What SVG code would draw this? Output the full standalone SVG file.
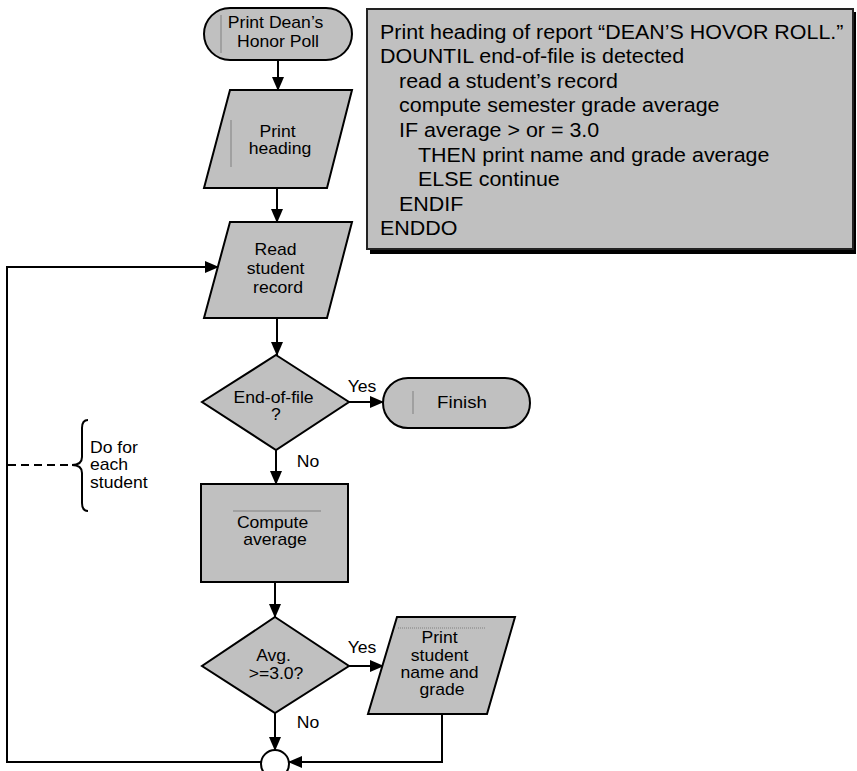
<svg xmlns="http://www.w3.org/2000/svg" width="857" height="771" viewBox="0 0 857 771">
  <style>
    .shape { fill: #c0c0c0; stroke: #000; stroke-width: 2; }
    .line { fill: none; stroke: #000; stroke-width: 2; }
    .arrow { fill: none; stroke: #000; stroke-width: 2; marker-end: url(#head); }
    .deco { stroke: #808080; stroke-width: 1; fill: none; }
    .t { font-family: "Liberation Sans", Arial, sans-serif; font-size: 16px; fill: #000; text-anchor: middle; }
    .tl { font-family: "Liberation Sans", Arial, sans-serif; font-size: 16px; fill: #000; }
    .code { font-family: "Liberation Sans", Arial, sans-serif; font-size: 19.5px; fill: #000; }
  </style>
  <defs>
    <marker id="head" markerUnits="userSpaceOnUse" markerWidth="14" markerHeight="14" viewBox="0 0 14 14" refX="13" refY="7" orient="auto">
      <path d="M0,1 L14,7 L0,13 Z" fill="#000"/>
    </marker>
  </defs>

  <!-- pseudocode panel -->
  <g id="pseudocode">
    <rect x="370" y="12" width="486" height="242" fill="#000"/>
    <rect x="367" y="9" width="486" height="240" fill="#c0c0c0" stroke="#222" stroke-width="2"/>
    <g class="code" transform="translate(380 0) scale(1.1 1)">
      <text x="0" y="39">Print heading of report “DEAN’S HOVOR ROLL.”</text>
      <text x="0" y="63.5">DOUNTIL end-of-file is detected</text>
      <text x="17.3" y="88">read a student’s record</text>
      <text x="17.3" y="112.5">compute semester grade average</text>
      <text x="17.3" y="137">IF average &gt; or = 3.0</text>
      <text x="34.5" y="162">THEN print name and grade average</text>
      <text x="34.5" y="186.5">ELSE continue</text>
      <text x="17.3" y="211">ENDIF</text>
      <text x="0" y="235.5">ENDDO</text>
    </g>
  </g>

  <!-- connectors -->
  <g id="connectors">
    <line class="arrow" x1="278" y1="60" x2="278" y2="90"/>
    <line class="arrow" x1="277" y1="188" x2="277" y2="222"/>
    <line class="arrow" x1="277" y1="318" x2="277" y2="355"/>
    <line class="arrow" x1="349" y1="402" x2="383" y2="402"/>
    <line class="arrow" x1="276" y1="450" x2="276" y2="484"/>
    <line class="arrow" x1="275" y1="582" x2="275" y2="617"/>
    <line class="arrow" x1="349" y1="666" x2="383" y2="666"/>
    <line class="arrow" x1="275" y1="713" x2="275" y2="750"/>
    <polyline class="arrow" points="442,714 442,762 289,762"/>
    <polyline class="arrow" points="261,762 7,762 7,267 218,267"/>
    <line class="line" x1="8" y1="465" x2="70" y2="465" stroke-dasharray="8 5" stroke-width="1.5"/>
    <text class="t" transform="translate(362 0) scale(1.1 1)" x="0" y="392">Yes</text>
    <text class="t" transform="translate(308 0) scale(1.1 1)" x="0" y="467">No</text>
    <text class="t" transform="translate(362 0) scale(1.1 1)" x="0" y="653">Yes</text>
    <text class="t" transform="translate(308 0) scale(1.1 1)" x="0" y="728">No</text>
  </g>

  <!-- loop annotation -->
  <g id="loop-note">
    <path class="line" stroke-width="1.5" d="M88,420 Q82,420 82,428 L82,457 Q82,465 72,465 Q82,465 82,473 L82,503 Q82,511 88,511"/>
    <text class="tl" transform="translate(90 0) scale(1.1 1)">
      <tspan x="0" y="453">Do for</tspan>
      <tspan x="0" y="470">each</tspan>
      <tspan x="0" y="488">student</tspan>
    </text>
  </g>

  <g id="start">
    <rect class="shape" x="204" y="8" width="148" height="52" rx="26"/>
    <line class="deco" x1="221" y1="15" x2="221" y2="53"/>
    <text class="t" transform="translate(278 0) scale(1.1 1)">
      <tspan x="0" y="28">Print Dean’s</tspan>
      <tspan x="0" y="47">Honor Poll</tspan>
    </text>
  </g>

  <g id="print-heading">
    <polygon class="shape" points="230,90 352,90 327,188 204,188"/>
    <line class="deco" x1="231" y1="120" x2="231" y2="167"/>
    <text class="t" transform="translate(280 0) scale(1.1 1)">
      <tspan x="0" y="137">Print</tspan>
      <tspan x="0" y="154">heading</tspan>
    </text>
  </g>

  <g id="read-record">
    <polygon class="shape" points="230,222 352,222 327,318 204,318"/>
    <text class="t" transform="translate(278 0) scale(1.1 1)">
      <tspan x="0" y="255">Read</tspan>
      <tspan x="0" y="274">student</tspan>
      <tspan x="0" y="293">record</tspan>
    </text>
  </g>

  <g id="end-of-file">
    <polygon class="shape" points="276,355 349,402 276,450 202,402"/>
    <text class="t" transform="translate(276 0) scale(1.1 1)">
      <tspan x="0" y="403">End-of-file</tspan>
      <tspan x="0" y="420">?</tspan>
    </text>
  </g>

  <g id="finish">
    <rect class="shape" x="383" y="378" width="147" height="50" rx="25"/>
    <line class="deco" x1="413" y1="391" x2="413" y2="414"/>
    <text class="t" style="font-size:17px" transform="translate(462 0) scale(1.1 1)" x="0" y="408">Finish</text>
  </g>

  <g id="compute-average">
    <rect class="shape" x="201" y="484" width="147" height="98"/>
    <line class="deco" x1="233" y1="511" x2="321" y2="511"/>
    <text class="t" transform="translate(275 0) scale(1.1 1)">
      <tspan x="0" y="528">Compute</tspan>
      <tspan x="0" y="545">average</tspan>
    </text>
  </g>

  <g id="avg-check">
    <polygon class="shape" points="275,617 349,666 275,713 202,666"/>
    <text class="t" transform="translate(276 0) scale(1.1 1)">
      <tspan x="0" y="661">Avg.</tspan>
      <tspan x="0" y="679">&gt;=3.0?</tspan>
    </text>
  </g>

  <g id="print-student">
    <polygon class="shape" points="397,617 515,617 487,714 368,714"/>
    <line class="deco" x1="398" y1="628" x2="486" y2="628" stroke-dasharray="1 1"/>
    <text class="t" transform="translate(442 0) scale(1.1 1)">
      <tspan x="0" y="643">Print</tspan>
      <tspan x="0" y="661">student</tspan>
      <tspan x="0" y="678">name and</tspan>
      <tspan x="0" y="695">grade</tspan>
    </text>
  </g>

  <g id="join">
    <circle cx="275" cy="764" r="14" fill="#fff" stroke="#000" stroke-width="2"/>
  </g>
</svg>
